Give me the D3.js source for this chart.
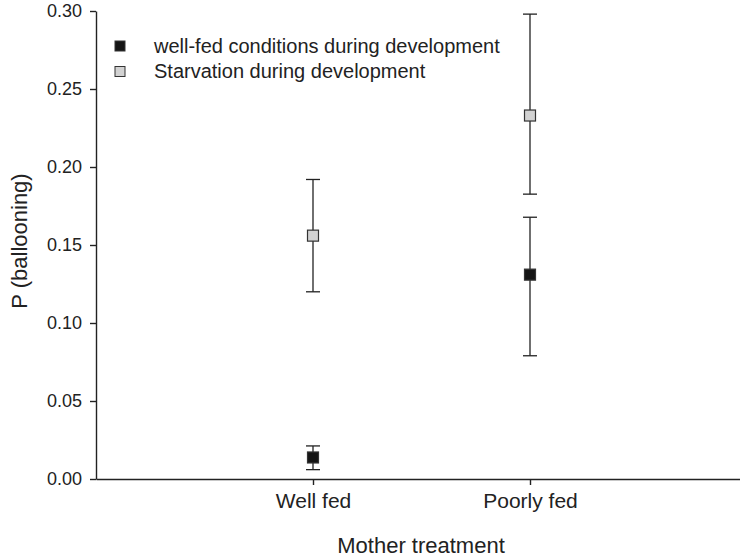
<!DOCTYPE html>
<html>
<head>
<meta charset="utf-8">
<script src="https://cdn.jsdelivr.net/npm/d3@7"></script>
<style>
	body { margin: 0; background: #fff; }
	svg text { font-family: "Liberation Sans", Arial, sans-serif; fill: #222; }
	.axis path, .axis line { stroke: #222; stroke-width: 1.4px; }
	.errBar { stroke: #222; stroke-width: 1.3px; }
</style>
</head>
<body>
<svg id="chart" width="740" height="560"></svg>
<script>
// mother treatment categories
var categories = ['Well fed', 'Poorly fed'];

// well-fed conditions during development
var fedMean = [0.0138, 0.131];
var fedLow = [0.006, 0.079];
var fedHigh = [0.0212, 0.1678];

// starvation during development
var starvMean = [0.156, 0.233];
var starvLow = [0.120, 0.1826];
var starvHigh = [0.192, 0.298];

var yTicks = [0, 0.05, 0.10, 0.15, 0.20, 0.25, 0.30];

var series = [
	{ name: 'well-fed conditions during development', fill: '#141414', mean: fedMean, low: fedLow, high: fedHigh },
	{ name: 'Starvation during development', fill: '#d2d2d2', mean: starvMean, low: starvLow, high: starvHigh }
];

var svg = d3.select('#chart');

var x = d3.scaleLinear().domain([0, 3]).range([96, 747]);
var y = d3.scaleLinear().domain([0, 0.30]).range([479, 11]);

// axes
var yAxis = svg.append('g').attr('class', 'axis')
	.attr('transform', 'translate(96,0)')
	.call(d3.axisLeft(y).tickValues(yTicks).tickSize(6).tickPadding(8).tickSizeOuter(0)
		.tickFormat(d3.format('.2f')));
yAxis.selectAll('text').style('font-size', '18px');

var xAxis = svg.append('g').attr('class', 'axis')
	.attr('transform', 'translate(0,479)')
	.call(d3.axisBottom(x).tickValues([1, 2]).tickSize(6).tickPadding(8).tickSizeOuter(0)
		.tickFormat(function(d) { return categories[d - 1]; }));
xAxis.selectAll('text').style('font-size', '21px');

// axis titles
svg.append('text')
	.attr('x', 421).attr('y', 553)
	.attr('text-anchor', 'middle').style('font-size', '22px')
	.text('Mother treatment');

svg.append('text')
	.attr('transform', 'translate(27,241) rotate(-90)')
	.attr('text-anchor', 'middle').style('font-size', '22px')
	.text('P (ballooning)');

// error bars and markers
var groups = svg.selectAll('g.series').data(series).enter().append('g').attr('class', 'series');

groups.each(function(s)
{
	var g = d3.select(this);
	categories.forEach(function(c, i)
	{
		var cx = x(i + 1);
		g.append('line').attr('class', 'errBar')
			.attr('x1', cx).attr('x2', cx).attr('y1', y(s.low[i])).attr('y2', y(s.high[i]));
		g.append('line').attr('class', 'errBar')
			.attr('x1', cx - 7).attr('x2', cx + 7).attr('y1', y(s.low[i])).attr('y2', y(s.low[i]));
		g.append('line').attr('class', 'errBar')
			.attr('x1', cx - 7).attr('x2', cx + 7).attr('y1', y(s.high[i])).attr('y2', y(s.high[i]));
		g.append('rect')
			.attr('x', cx - 5.5).attr('y', y(s.mean[i]) - 5.5)
			.attr('width', 11).attr('height', 11)
			.attr('fill', s.fill).attr('stroke', '#333').attr('stroke-width', 1.2);
	});
});

// legend
var legend = svg.append('g').selectAll('g').data(series).enter().append('g')
	.attr('transform', function(d, i) {
		return 'translate(115,' + (41 + i * 25.5) + ')';
	});
legend.append('rect')
	.attr('x', 0).attr('y', 0).attr('width', 10).attr('height', 10)
	.attr('fill', function(d) { return d.fill; }).attr('stroke', '#333').attr('stroke-width', 1);
legend.append('text')
	.attr('x', 39).attr('y', 11.5).style('font-size', '20px')
	.text(function(d) { return d.name; });
</script>
</body>
</html>
